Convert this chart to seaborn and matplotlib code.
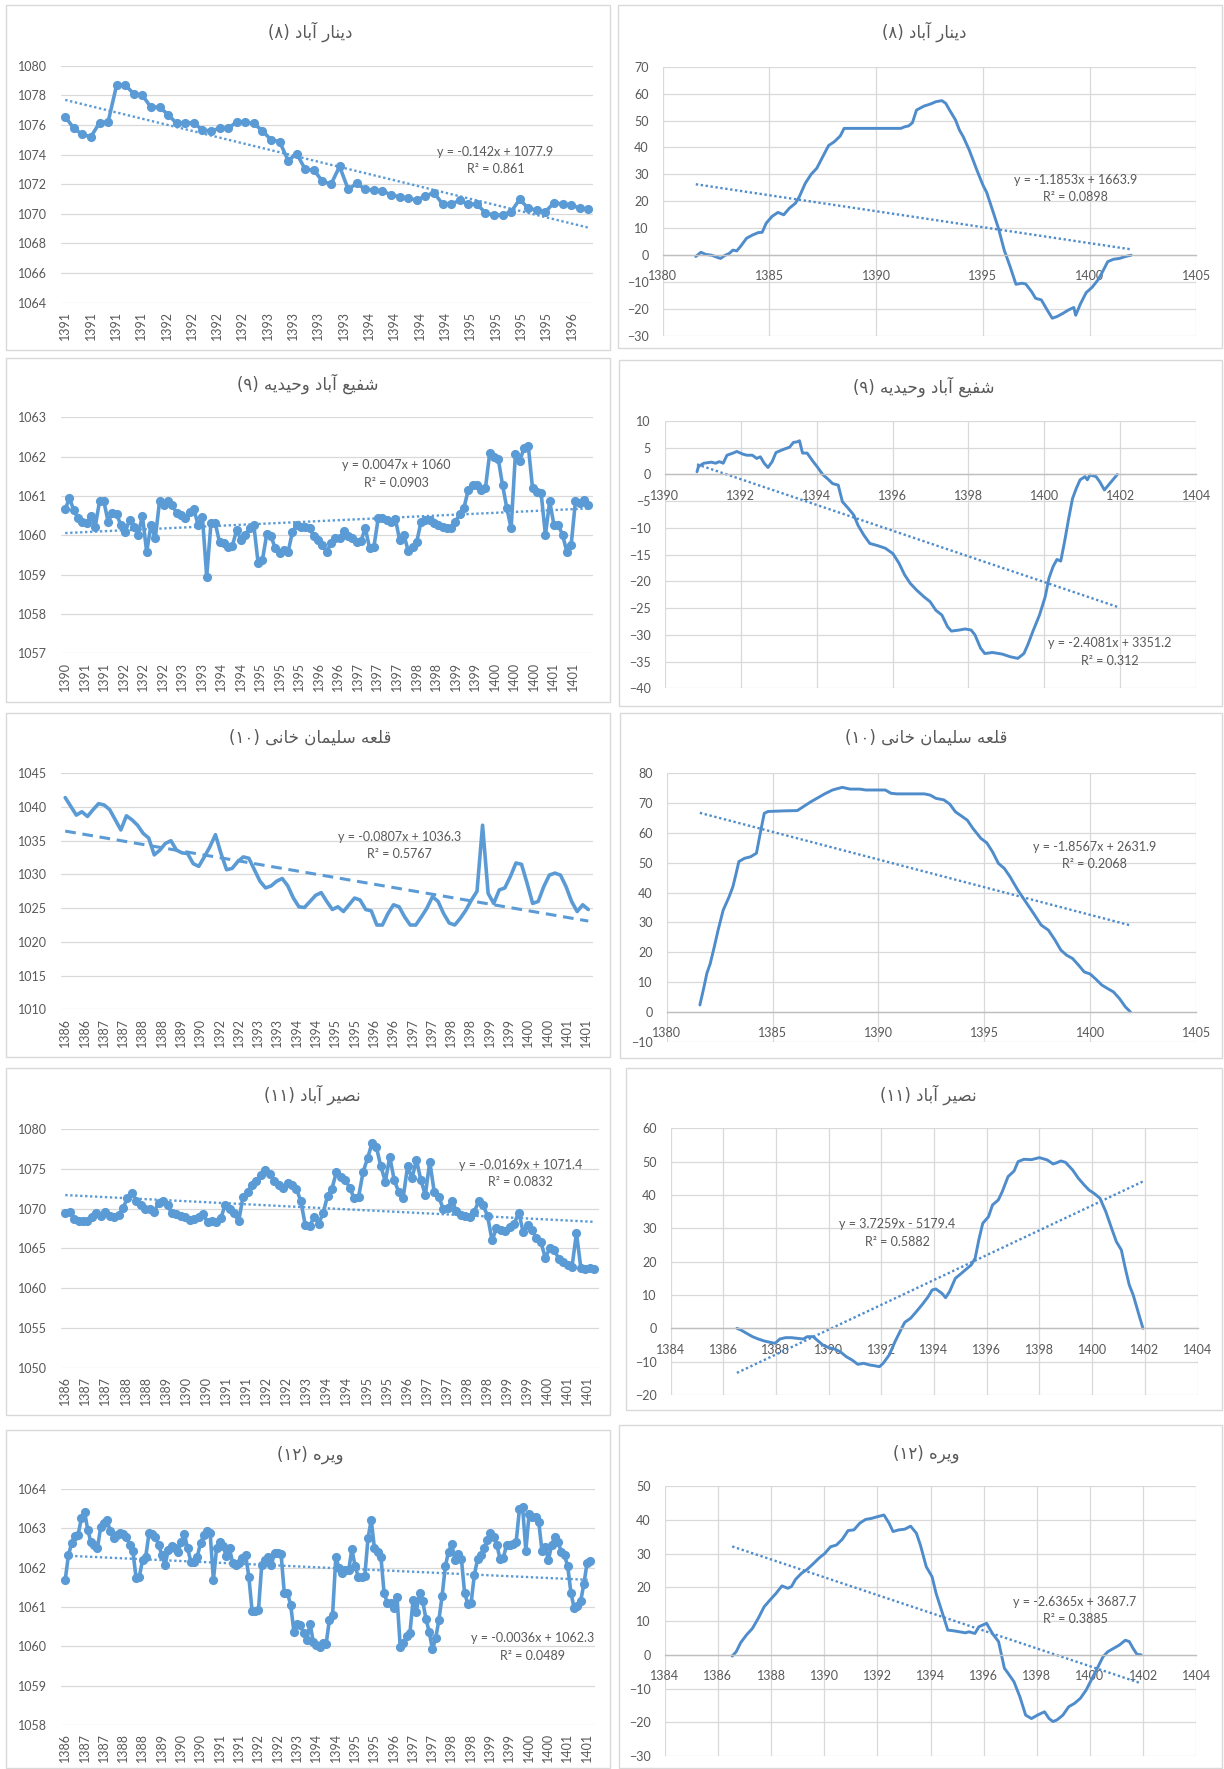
import numpy as np
import matplotlib
matplotlib.use("Agg")
import matplotlib.pyplot as plt
import seaborn as sns

# --- titles (Persian) and trend labels
TITLES = ["دینار آباد (۸)", "شفیع آباد وحیدیه (۹)", "قلعه سلیمان خانی (۱۰)",
          "نصیر آباد (۱۱)", "ویره (۱۲)"]

LEFT_EQ = [("y = -0.142x + 1077.9", "R² = 0.861"),
           ("y = 0.0047x + 1060", "R² = 0.0903"),
           ("y = -0.0807x + 1036.3", "R² = 0.5767"),
           ("y = -0.0169x + 1071.4", "R² = 0.0832"),
           ("y = -0.0036x + 1062.3", "R² = 0.0489")]
RIGHT_EQ = [("y = -1.1853x + 1663.9", "R² = 0.0898"),
            ("y = -2.4081x + 3351.2", "R² = 0.312"),
            ("y = -1.8567x + 2631.9", "R² = 0.2068"),
            ("y = 3.7259x - 5179.4", "R² = 0.5882"),
            ("y = -2.6365x + 3687.7", "R² = 0.3885")]
RIGHT_COEF = [(-1.1853, 1663.9), (-2.4081, 3351.2), (-1.8567, 2631.9),
              (3.7259, -5179.4), (-2.6365, 3687.7)]

# --- left column: level series on category axes
L1_LABELS = ["1391"] * 4 + ["1392"] * 4 + ["1393"] * 4 + ["1394"] * 4 + ["1395"] * 4 + ["1396"]
L1_VALS = [1076.56, 1075.77, 1075.36, 1075.2, 1076.15, 1076.2, 1078.7, 1078.7, 1078.1, 1078.0,
           1077.2, 1077.2, 1076.7, 1076.1, 1076.15, 1076.15, 1075.65, 1075.6, 1075.77, 1075.77,
           1076.2, 1076.2, 1076.1, 1075.6, 1075.0, 1074.87, 1073.6, 1074.05, 1073.0, 1072.95,
           1072.2, 1072.0, 1073.2, 1071.65, 1072.05, 1071.65, 1071.6, 1071.55, 1071.27, 1071.15,
           1071.05, 1070.93, 1071.2, 1071.43, 1070.66, 1070.66, 1070.9, 1070.66, 1070.66, 1070.07,
           1069.9, 1069.92, 1070.14, 1070.98, 1070.37, 1070.25, 1070.14, 1070.75, 1070.66, 1070.6,
           1070.37, 1070.3]

L2_LABELS = ["1390", "1391", "1391", "1392", "1392", "1392", "1393", "1393", "1394", "1394",
             "1395", "1395", "1395", "1396", "1396", "1397", "1397", "1397", "1398", "1398",
             "1399", "1399", "1400", "1400", "1400", "1401", "1401"]
L2_VALS = [1060.67, 1060.94, 1060.64, 1060.43, 1060.35, 1060.31, 1060.50, 1060.22, 1060.86, 1060.87,
           1060.35, 1060.56, 1060.53, 1060.26, 1060.09, 1060.39, 1060.22, 1060.01, 1060.50, 1059.58,
           1060.26, 1059.92, 1060.86, 1060.77, 1060.86, 1060.77, 1060.56, 1060.52, 1060.43, 1060.60,
           1060.67, 1060.26, 1060.47, 1058.95, 1060.31, 1060.31, 1059.82, 1059.80, 1059.71, 1059.74,
           1060.14, 1059.88, 1060.01, 1060.18, 1060.25, 1059.29, 1059.37, 1060.03, 1059.97, 1059.67,
           1059.54, 1059.63, 1059.58, 1060.09, 1060.26, 1060.22, 1060.22, 1060.18, 1059.97, 1059.88,
           1059.75, 1059.58, 1059.80, 1059.94, 1059.92, 1060.11, 1059.97, 1059.94, 1059.84, 1059.86,
           1060.18, 1059.67, 1059.71, 1060.43, 1060.45, 1060.39, 1060.35, 1060.42, 1059.88, 1060.01,
           1059.60, 1059.71, 1059.84, 1060.35, 1060.39, 1060.39, 1060.31, 1060.26, 1060.22, 1060.19,
           1060.18, 1060.35, 1060.53, 1060.70, 1061.15, 1061.28, 1061.28, 1061.15, 1061.19, 1062.08,
           1062.00, 1061.94, 1061.28, 1060.69, 1060.18, 1062.06, 1061.89, 1062.21, 1062.28, 1061.19,
           1061.11, 1061.07, 1060.01, 1060.86, 1060.26, 1060.26, 1060.01, 1059.58, 1059.75, 1060.86,
           1060.81, 1060.90, 1060.77]

L3_LABELS = ["1386", "1386", "1387", "1387", "1388", "1388", "1389", "1390", "1392", "1392",
             "1393", "1393", "1394", "1394", "1395", "1395", "1396", "1396", "1397", "1397",
             "1398", "1398", "1399", "1399", "1400", "1400", "1401", "1401"]
L3_VALS = [1041.4, 1040.1, 1038.8, 1039.3, 1038.6, 1039.6, 1040.5, 1040.3, 1039.6, 1038.1,
           1036.6, 1038.7, 1038.1, 1037.3, 1036.1, 1035.4, 1032.9, 1033.6, 1034.6, 1035.0,
           1033.6, 1033.2, 1033.1, 1031.6, 1031.2, 1032.6, 1034.1, 1035.9, 1033.1, 1030.7,
           1030.9, 1031.9, 1032.6, 1032.4, 1030.7, 1029.0, 1028.0, 1028.3, 1029.0, 1029.4,
           1028.3, 1026.5, 1025.2, 1025.1, 1026.0, 1026.9, 1027.3, 1026.0, 1024.8, 1025.2,
           1024.5, 1025.5, 1026.5, 1026.2, 1024.8, 1024.6, 1022.5, 1022.5, 1024.2, 1025.5,
           1025.2, 1023.7, 1022.5, 1022.5, 1023.7, 1025.0, 1026.7, 1026.0, 1024.2, 1022.8,
           1022.5, 1023.5, 1024.7, 1026.2, 1027.5, 1037.3, 1027.2, 1025.7, 1027.7, 1028.0,
           1029.7, 1031.7, 1031.5, 1028.7, 1025.7, 1026.0, 1028.2, 1029.9, 1030.2, 1029.9,
           1028.2, 1026.0, 1024.5, 1025.5, 1024.8]

L4_LABELS = ["1386", "1387", "1387", "1388", "1388", "1389", "1390", "1390", "1391", "1391",
             "1392", "1392", "1393", "1394", "1394", "1395", "1395", "1396", "1397", "1397",
             "1398", "1398", "1399", "1399", "1400", "1401", "1401"]
L4_VALS = [1069.4, 1069.6, 1068.7, 1068.4, 1068.4, 1068.4, 1069.0, 1069.4, 1069.1, 1069.6,
           1069.1, 1069.0, 1069.2, 1070.1, 1071.3, 1072.0, 1071.0, 1070.5, 1069.9, 1069.9,
           1069.6, 1070.7, 1070.9, 1070.4, 1069.4, 1069.3, 1069.1, 1068.9, 1068.6, 1068.7,
           1069.0, 1069.3, 1068.3, 1068.4, 1068.3, 1068.8, 1070.5, 1070.0, 1069.4, 1068.4,
           1071.5, 1072.1, 1073.0, 1073.5, 1074.2, 1074.8, 1074.4, 1073.5, 1072.9, 1072.6,
           1073.2, 1072.9, 1072.5, 1070.9, 1067.9, 1067.8, 1069.0, 1068.1, 1069.4, 1071.6,
           1072.5, 1074.6, 1074.0, 1073.6, 1072.6, 1071.3, 1071.5, 1074.6, 1076.3, 1078.2,
           1077.7, 1075.3, 1073.4, 1076.5, 1073.6, 1072.1, 1071.3, 1075.3, 1073.8, 1076.1,
           1073.6, 1071.7, 1075.9, 1072.1, 1071.5, 1070.0, 1070.1, 1070.9, 1069.7, 1069.2,
           1069.1, 1069.0, 1069.6, 1070.9, 1070.4, 1069.1, 1066.0, 1067.5, 1067.3, 1067.2,
           1067.7, 1068.1, 1069.5, 1067.1, 1067.9, 1067.3, 1066.3, 1065.8, 1063.8, 1065.0,
           1064.8, 1063.7, 1063.3, 1062.9, 1062.7, 1066.9, 1062.5, 1062.4, 1062.5, 1062.4]

L5_LABELS = ["1386", "1387", "1387", "1388", "1388", "1389", "1390", "1390", "1391", "1391",
             "1392", "1392", "1393", "1394", "1394", "1395", "1395", "1396", "1397", "1397",
             "1398", "1398", "1399", "1399", "1400", "1400", "1401", "1401"]
L5_VALS = [1061.69, 1062.32, 1062.62, 1062.81, 1062.84, 1063.25, 1063.42, 1062.96, 1062.64, 1062.58,
           1062.49, 1063.03, 1063.13, 1063.21, 1062.92, 1062.75, 1062.84, 1062.89, 1062.86, 1062.79,
           1062.58, 1062.43, 1061.73, 1061.77, 1062.19, 1062.28, 1062.87, 1062.86, 1062.79, 1062.58,
           1062.32, 1062.07, 1062.45, 1062.55, 1062.49, 1062.41, 1062.64, 1062.86, 1062.49, 1062.15,
           1062.15, 1062.28, 1062.62, 1062.83, 1062.92, 1062.87, 1061.69, 1062.49, 1062.64, 1062.55,
           1062.30, 1062.49, 1062.11, 1062.07, 1062.13, 1062.24, 1062.32, 1061.77, 1060.91, 1060.89,
           1060.93, 1062.07, 1062.19, 1062.28, 1062.07, 1062.38, 1062.38, 1062.36, 1061.36, 1061.35,
           1061.05, 1060.37, 1060.58, 1060.54, 1060.33, 1060.16, 1060.58, 1060.12, 1060.03, 1059.99,
           1060.08, 1060.06, 1060.67, 1060.80, 1062.26, 1062.00, 1061.86, 1061.94, 1061.94, 1062.47,
           1062.03, 1061.77, 1061.77, 1061.79, 1062.75, 1063.21, 1062.49, 1062.41, 1062.28, 1061.35,
           1061.11, 1061.11, 1060.97, 1061.26, 1059.99, 1060.08, 1060.26, 1060.33, 1061.19, 1060.88,
           1061.35, 1061.14, 1060.69, 1060.37, 1059.92, 1060.20, 1060.67, 1061.28, 1062.03, 1062.41,
           1062.60, 1062.19, 1062.36, 1062.21, 1061.35, 1061.08, 1061.10, 1061.81, 1062.21, 1062.32,
           1062.49, 1062.70, 1062.87, 1062.77, 1062.58, 1062.21, 1062.24, 1062.58, 1062.58, 1062.60,
           1062.66, 1063.48, 1063.53, 1062.43, 1063.36, 1063.28, 1063.30, 1063.17, 1062.43, 1062.53,
           1062.19, 1062.58, 1062.79, 1062.64, 1062.41, 1062.32, 1062.03, 1061.36, 1060.97, 1061.02,
           1061.14, 1061.58, 1062.11, 1062.18]

# --- right column: cumulative series against year
R1_X = [1381.55, 1381.79, 1382.01, 1382.29, 1382.56, 1382.71, 1382.93, 1383.11, 1383.29, 1383.47,
        1383.66, 1383.93, 1384.21, 1384.48, 1384.66, 1384.85, 1385.12, 1385.40, 1385.67, 1385.94,
        1386.22, 1386.40, 1386.68, 1386.95, 1387.22, 1387.50, 1387.77, 1388.05, 1388.32, 1388.50,
        1388.78, 1389.51, 1390.42, 1391.16, 1391.34, 1391.52, 1391.70, 1391.89, 1392.25, 1392.53,
        1392.80, 1393.08, 1393.26, 1393.44, 1393.72, 1393.90, 1394.08, 1394.36, 1394.72, 1395.00,
        1395.18, 1395.45, 1395.73, 1396.00, 1396.28, 1396.55, 1396.83, 1397.01, 1397.28, 1397.47,
        1397.74, 1398.01, 1398.25, 1398.47, 1398.75, 1399.02, 1399.26, 1399.35, 1399.57, 1399.84,
        1400.12, 1400.39, 1400.57, 1400.85, 1401.12, 1401.40, 1401.67, 1401.95]
R1_Y = [-0.5, 1.1, 0.3, 0.0, -0.8, -1.2, 0.0, 0.6, 1.9, 1.6, 3.4, 6.3, 7.5, 8.4, 8.5, 11.9, 14.4,
        15.9, 15.0, 17.5, 19.3, 21.7, 26.7, 30.0, 32.3, 36.6, 40.7, 42.2, 44.3, 47.1, 47.1, 47.1,
        47.1, 47.1, 47.7, 48.0, 49.2, 53.9, 55.4, 56.1, 57.0, 57.4, 56.4, 53.9, 50.2, 46.5, 44.0,
        39.1, 31.6, 26.1, 23.3, 16.8, 10.0, 1.9, -4.3, -10.8, -10.4, -10.7, -13.5, -16.0, -16.6,
        -20.3, -23.4, -22.8, -21.6, -20.3, -19.4, -22.3, -18.1, -13.9, -11.9, -9.2, -6.7, -2.4,
        -1.5, -1.2, -0.5, 0.0]

R2_X = [1390.85, 1390.89, 1391.03, 1391.23, 1391.34, 1391.44, 1391.54, 1391.64, 1391.80, 1391.90,
        1392.06, 1392.16, 1392.31, 1392.42, 1392.52, 1392.62, 1392.72, 1392.83, 1392.93, 1393.13,
        1393.29, 1393.39, 1393.49, 1393.55, 1393.63, 1393.75, 1393.91, 1394.01, 1394.16, 1394.32,
        1394.42, 1394.57, 1394.68, 1394.83, 1394.98, 1395.09, 1395.24, 1395.40, 1395.60, 1395.81,
        1396.01, 1396.17, 1396.32, 1396.47, 1396.63, 1396.83, 1396.99, 1397.14, 1397.30, 1397.45,
        1397.55, 1397.76, 1397.91, 1398.07, 1398.17, 1398.32, 1398.43, 1398.63, 1398.89, 1399.10,
        1399.30, 1399.46, 1399.56, 1399.71, 1399.87, 1400.02, 1400.12, 1400.23, 1400.33, 1400.43,
        1400.53, 1400.64, 1400.74, 1400.84, 1400.94, 1401.07, 1401.13, 1401.20, 1401.36, 1401.46,
        1401.58, 1401.72, 1401.92]
R2_Y = [0.5, 1.5, 2.1, 2.3, 2.1, 2.4, 2.1, 3.6, 4.0, 4.3, 3.8, 3.6, 3.6, 3.0, 3.3, 2.1, 1.3, 2.4,
        4.1, 4.7, 5.1, 6.0, 6.1, 6.3, 4.0, 4.0, 2.4, 1.5, 0.0, -1.0, -1.7, -2.0, -5.1, -6.3, -7.6,
        -9.5, -11.3, -12.9, -13.3, -13.8, -14.8, -16.6, -18.8, -20.4, -21.6, -22.9, -23.8, -25.4,
        -26.3, -28.5, -29.3, -29.1, -28.9, -29.1, -30.0, -32.5, -33.5, -33.3, -33.6, -34.1, -34.4,
        -33.5, -31.9, -29.1, -26.3, -22.9, -19.4, -17.2, -15.9, -16.2, -12.6, -8.2, -4.5, -2.6,
        -1.0, -0.4, -1.0, -0.1, -0.4, -1.4, -2.9, -1.7, 0.0]

R3_X = [1381.57, 1381.75, 1381.90, 1382.06, 1382.25, 1382.43, 1382.67, 1382.95, 1383.13, 1383.28,
        1383.41, 1383.68, 1383.96, 1384.24, 1384.42, 1384.61, 1384.79, 1385.53, 1386.17, 1386.45,
        1386.82, 1387.09, 1387.46, 1387.83, 1388.29, 1388.66, 1389.12, 1389.40, 1389.76, 1390.32,
        1390.59, 1390.87, 1391.42, 1392.16, 1392.44, 1392.71, 1393.08, 1393.36, 1393.63, 1393.91,
        1394.19, 1394.46, 1394.83, 1395.11, 1395.38, 1395.66, 1395.94, 1396.21, 1396.58, 1396.95,
        1397.32, 1397.68, 1398.02, 1398.33, 1398.61, 1398.88, 1399.16, 1399.44, 1399.71, 1399.99,
        1400.27, 1400.54, 1400.82, 1401.09, 1401.37, 1401.65, 1401.89]
R3_Y = [2.3, 7.9, 12.9, 16.2, 21.8, 27.4, 34.1, 38.6, 42.0, 46.4, 50.4, 51.5, 52.0, 53.2, 59.9,
        66.6, 67.2, 67.4, 67.5, 68.8, 70.5, 71.6, 73.1, 74.4, 75.3, 74.7, 74.7, 74.4, 74.4, 74.4,
        73.3, 73.1, 73.1, 73.1, 72.7, 71.6, 71.1, 69.7, 67.1, 65.7, 64.3, 61.5, 58.2, 56.7, 53.7,
        49.8, 48.1, 45.3, 40.8, 36.9, 33.0, 29.1, 27.4, 24.1, 20.7, 19.0, 17.9, 15.7, 13.4, 12.7,
        10.9, 9.0, 7.8, 6.7, 4.5, 1.7, 0.0]

R4_X = [1386.52, 1386.67, 1386.89, 1387.11, 1387.33, 1387.56, 1387.78, 1387.97, 1388.15, 1388.37,
        1388.59, 1388.81, 1389.04, 1389.19, 1389.41, 1389.56, 1389.78, 1390.00, 1390.22, 1390.44,
        1390.67, 1390.89, 1391.11, 1391.33, 1391.56, 1391.73, 1391.93, 1392.07, 1392.30, 1392.52,
        1392.74, 1392.89, 1393.11, 1393.33, 1393.56, 1393.78, 1393.93, 1394.07, 1394.30, 1394.44,
        1394.59, 1394.81, 1395.04, 1395.26, 1395.41, 1395.56, 1395.70, 1395.85, 1396.07, 1396.22,
        1396.44, 1396.59, 1396.81, 1397.04, 1397.19, 1397.41, 1397.70, 1398.00, 1398.30, 1398.52,
        1398.67, 1398.81, 1398.99, 1399.26, 1399.48, 1399.70, 1399.88, 1400.07, 1400.30, 1400.52,
        1400.74, 1400.92, 1401.11, 1401.26, 1401.41, 1401.56, 1401.78, 1401.93]
R4_Y = [0.0, -0.5, -1.5, -2.5, -3.2, -3.8, -4.2, -4.5, -3.2, -2.8, -2.8, -3.0, -3.2, -2.5, -2.5,
        -3.5, -5.0, -5.8, -6.2, -7.0, -8.5, -9.5, -10.8, -10.5, -11.0, -11.2, -11.5, -10.5, -8.0,
        -4.0, -0.5, 1.8, 3.0, 5.0, 7.2, 9.5, 11.5, 11.8, 10.5, 9.2, 11.0, 15.0, 16.5, 18.0, 19.0,
        21.0, 26.5, 31.5, 33.5, 37.0, 38.5, 41.0, 45.5, 47.2, 50.0, 50.7, 50.6, 51.2, 50.5, 49.3,
        49.7, 50.2, 49.8, 47.5, 45.0, 43.0, 41.5, 40.5, 39.0, 35.0, 30.0, 26.0, 23.5, 18.0, 13.0,
        10.0, 4.0, 0.0]

R5_X = [1386.54, 1386.69, 1386.86, 1387.08, 1387.30, 1387.52, 1387.74, 1387.96, 1388.19, 1388.41,
        1388.63, 1388.77, 1388.92, 1389.14, 1389.36, 1389.58, 1389.80, 1390.02, 1390.24, 1390.46,
        1390.68, 1390.90, 1391.12, 1391.34, 1391.56, 1391.78, 1392.00, 1392.25, 1392.44, 1392.59,
        1392.81, 1393.03, 1393.25, 1393.47, 1393.62, 1393.84, 1394.06, 1394.21, 1394.43, 1394.65,
        1394.87, 1395.09, 1395.31, 1395.45, 1395.67, 1395.82, 1396.11, 1396.33, 1396.56, 1396.78,
        1396.92, 1397.14, 1397.36, 1397.58, 1397.80, 1398.02, 1398.29, 1398.46, 1398.61, 1398.76,
        1398.98, 1399.20, 1399.42, 1399.64, 1399.86, 1400.08, 1400.30, 1400.49, 1400.67, 1400.89,
        1401.11, 1401.33, 1401.48, 1401.62, 1401.77, 1401.92]
R5_Y = [-0.4, 0.9, 3.6, 5.9, 7.8, 10.8, 14.2, 16.2, 18.2, 20.4, 19.7, 20.2, 22.3, 24.1, 25.3,
        26.9, 28.6, 30.0, 32.0, 32.5, 34.2, 36.8, 37.0, 39.0, 40.1, 40.4, 40.9, 41.4, 39.0, 36.5,
        37.0, 37.2, 38.1, 36.0, 32.5, 26.1, 23.1, 18.2, 12.8, 7.3, 7.1, 6.8, 6.5, 6.8, 6.3, 8.3,
        9.3, 6.3, 3.9, -4.0, -5.5, -8.0, -12.4, -17.9, -18.9, -17.9, -16.9, -18.9, -19.8, -19.3,
        -17.9, -15.4, -14.4, -12.9, -10.4, -7.0, -3.6, -0.6, 0.9, 1.9, 2.9, 4.3, 3.9, 1.9, 0.1, 0.0]

BLUE = "#5B9BD5"
BLUE_R = "#4F8CCB"
TXT = "#595959"
GRID = "#D9D9D9"
W, H = 1224, 1769

# arabic contextual forms: isolated, final, initial, medial
FORMS = {
    "ا": ("\uFE8D", "\uFE8E", None, None), "آ": ("\uFE81", "\uFE82", None, None),
    "د": ("\uFEA9", "\uFEAA", None, None), "ر": ("\uFEAD", "\uFEAE", None, None),
    "و": ("\uFEED", "\uFEEE", None, None),
    "ب": ("\uFE8F", "\uFE90", "\uFE91", "\uFE92"), "ح": ("\uFEA1", "\uFEA2", "\uFEA3", "\uFEA4"),
    "خ": ("\uFEA5", "\uFEA6", "\uFEA7", "\uFEA8"), "س": ("\uFEB1", "\uFEB2", "\uFEB3", "\uFEB4"),
    "ش": ("\uFEB5", "\uFEB6", "\uFEB7", "\uFEB8"), "ص": ("\uFEB9", "\uFEBA", "\uFEBB", "\uFEBC"),
    "ع": ("\uFEC9", "\uFECA", "\uFECB", "\uFECC"), "ف": ("\uFED1", "\uFED2", "\uFED3", "\uFED4"),
    "ق": ("\uFED5", "\uFED6", "\uFED7", "\uFED8"), "ل": ("\uFEDD", "\uFEDE", "\uFEDF", "\uFEE0"),
    "م": ("\uFEE1", "\uFEE2", "\uFEE3", "\uFEE4"), "ن": ("\uFEE5", "\uFEE6", "\uFEE7", "\uFEE8"),
    "ه": ("\uFEE9", "\uFEEA", "\uFEEB", "\uFEEC"),
    "\u06CC": ("\uFEEF", "\uFEF0", "\uFEF3", "\uFEF4"), "\u064A": ("\uFEEF", "\uFEF0", "\uFEF3", "\uFEF4"),
}


def shape(word):
    out = []
    for i, ch in enumerate(word):
        if ch not in FORMS:
            out.append(ch)
            continue
        prev = word[i - 1] if i > 0 else ""
        nxt = word[i + 1] if i + 1 < len(word) else ""
        jp = prev in FORMS and FORMS[prev][2] is not None
        jn = nxt in FORMS and FORMS[ch][2] is not None
        iso, fin, ini, med = FORMS[ch]
        out.append(med if (jp and jn) else fin if jp else ini if jn else iso)
    return "".join(out)


def visual(title):
    # matplotlib has no bidi support, so lay the title out right-to-left by hand
    name, num = title.rsplit(" (", 1)
    return "(" + num.rstrip(")") + ") " + shape(name)[::-1]


def px_axes(fig, box):
    x0, y0, x1, y1 = box
    return fig.add_axes([x0 / W, 1 - y1 / H, (x1 - x0) / W, (y1 - y0) / H])


def frame(fig, box):
    x0, y0, x1, y1 = box
    fig.add_artist(plt.Rectangle((x0 / W, 1 - y1 / H), (x1 - x0) / W, (y1 - y0) / H,
                                 transform=fig.transFigure, fill=False, edgecolor=GRID, lw=1.0))


def style_common(ax):
    for s in ax.spines.values():
        s.set_visible(False)
    ax.tick_params(length=0, labelsize=9, labelcolor=TXT)
    ax.set_xlabel("")
    ax.set_ylabel("")


def left_chart(ax, vals, labels, frac, yticks, eq, eq_pos, markers=True, trend_ls=(0, (1, 1.1)),
               minor=False):
    x = np.arange(len(vals))
    kw = dict(color=BLUE, linewidth=2.6)
    if markers:
        kw.update(marker="o", markersize=6.6, markeredgecolor=BLUE, markeredgewidth=0)
    sns.lineplot(x=x, y=vals, ax=ax, legend=False, **kw)
    k, b = np.polyfit(x, vals, 1)
    ends = np.array([0, len(vals) - 1])
    ax.plot(ends, k * ends + b, linestyle=trend_ls, color=BLUE,
            linewidth=2.2 if minor else 1.7)
    pad = 0.009 * (len(vals) - 1)
    ax.set_xlim(-pad, len(vals) - 1 + pad)
    ax.set_ylim(yticks[0], yticks[-1])
    ax.set_yticks(yticks)
    ax.set_xticks(np.linspace(0, (len(vals) - 1) * frac, len(labels)))
    ax.set_xticklabels(labels, rotation=90)
    style_common(ax)
    ax.yaxis.grid(True, color=GRID, lw=0.9)
    ax.xaxis.grid(False)
    ax.tick_params(axis="y", pad=10)
    ax.tick_params(axis="x", pad=6)
    if minor:
        ax.set_xticks(x, minor=True)
        ax.tick_params(axis="x", which="minor", length=3, color=GRID, width=0.8)
    ax.text(eq_pos[0], eq_pos[1], eq[0], transform=ax.transAxes, ha="center", va="center",
            fontsize=9, color=TXT)
    ax.text(eq_pos[0], eq_pos[2], eq[1], transform=ax.transAxes, ha="center", va="center",
            fontsize=9, color=TXT)


def right_chart(ax, xs, ys, coef, xticks, yticks, eq, eq_pos):
    sns.lineplot(x=xs, y=ys, ax=ax, color=BLUE_R, linewidth=2.1, legend=False)
    ends = np.array([xs[0], xs[-1]])
    ax.plot(ends, coef[0] * ends + coef[1], linestyle=(0, (1, 1.1)), color=BLUE_R, linewidth=1.7)
    ax.set_xlim(xticks[0], xticks[-1])
    ax.set_ylim(yticks[0], yticks[-1])
    ax.set_xticks(xticks)
    ax.set_yticks(yticks)
    style_common(ax)
    ax.grid(True, color=GRID, lw=0.9)
    ax.spines["bottom"].set_visible(True)
    ax.spines["bottom"].set_position(("data", 0))
    ax.spines["bottom"].set_color("#BFBFBF")
    ax.spines["bottom"].set_linewidth(1.0)
    ax.tick_params(axis="y", pad=10)
    ax.tick_params(axis="x", pad=11)
    ax.text(eq_pos[0], eq_pos[1], eq[0], transform=ax.transAxes, ha="center", va="center",
            fontsize=9, color=TXT)
    ax.text(eq_pos[0], eq_pos[2], eq[1], transform=ax.transAxes, ha="center", va="center",
            fontsize=9, color=TXT)


sns.set_theme(style="white")
plt.rcParams["font.family"] = ["Lato", "DejaVu Sans"]

fig = plt.figure(figsize=(W / 100, H / 100), dpi=100)
fig.patch.set_facecolor("white")

LEFT_FRAMES = [(6, 5, 610, 350), (6, 358, 610, 702), (6, 713, 610, 1057),
               (6, 1068, 610, 1415), (6, 1430, 610, 1768)]
RIGHT_FRAMES = [(618, 5, 1222, 348), (619, 360, 1222, 706), (620, 713, 1222, 1058),
                (626, 1068, 1222, 1410), (619, 1425, 1222, 1768)]
for bx in LEFT_FRAMES + RIGHT_FRAMES:
    frame(fig, bx)

LEFT_BOXES = [(60.5, 65.7, 593, 302.7), (60.5, 417.3, 593, 653.3), (60.5, 773.3, 593, 1009.3),
              (60.5, 1129, 599, 1367.7), (60.5, 1489, 595, 1725)]
RIGHT_BOXES = [(662.7, 66.7, 1196.3, 336), (664.7, 421, 1196.3, 688.3), (666.6, 773.3, 1196.3, 1041.7),
               (670.5, 1128.3, 1197.5, 1395), (664.7, 1486, 1196.3, 1756)]

left_specs = [
    (L1_VALS, L1_LABELS, 0.968, np.arange(1064, 1081, 2), (0.817, 0.637, 0.563), True),
    (L2_VALS, L2_LABELS, 0.970, np.arange(1057, 1064, 1), (0.630, 0.798, 0.723), True),
    (L3_VALS, L3_LABELS, 0.996, np.arange(1010, 1046, 5), (0.637, 0.732, 0.657), False),
    (L4_VALS, L4_LABELS, 0.987, np.arange(1050, 1081, 5), (0.855, 0.849, 0.777), True),
    (L5_VALS, L5_LABELS, 0.993, np.arange(1058, 1065, 1), (0.883, 0.367, 0.294), True),
]
for i, (vals, labels, frac, yt, pos, mk) in enumerate(left_specs):
    ax = px_axes(fig, LEFT_BOXES[i])
    if mk:
        left_chart(ax, vals, labels, frac, yt, LEFT_EQ[i], pos)
    else:
        left_chart(ax, vals, labels, frac, yt, LEFT_EQ[i], pos, markers=False,
                   trend_ls=(0, (3.5, 2.2)), minor=True)

right_specs = [
    (R1_X, R1_Y, np.arange(1380, 1406, 5), np.arange(-30, 71, 10), (0.773, 0.579, 0.515)),
    (R2_X, R2_Y, np.arange(1390, 1405, 2), np.arange(-40, 11, 5), (0.838, 0.168, 0.102)),
    (R3_X, R3_Y, np.arange(1380, 1406, 5), np.arange(-10, 81, 10), (0.808, 0.727, 0.661)),
    (R4_X, R4_Y, np.arange(1384, 1405, 2), np.arange(-20, 61, 10), (0.430, 0.640, 0.575)),
    (R5_X, R5_Y, np.arange(1384, 1405, 2), np.arange(-30, 51, 10), (0.772, 0.572, 0.509)),
]
for i, (xs, ys, xt, yt, pos) in enumerate(right_specs):
    ax = px_axes(fig, RIGHT_BOXES[i])
    right_chart(ax, np.array(xs), np.array(ys), RIGHT_COEF[i], xt, yt, RIGHT_EQ[i], pos)

LEFT_TITLE_POS = [(310, 32), (308, 384), (310, 738), (312, 1095), (310, 1455)]
RIGHT_TITLE_POS = [(924, 32), (924, 387), (926, 738), (928, 1095), (926, 1454)]
for i, t in enumerate(TITLES):
    for (tx, ty) in (LEFT_TITLE_POS[i], RIGHT_TITLE_POS[i]):
        fig.text(tx / W, 1 - ty / H, visual(t), ha="center", va="center", fontsize=12,
                 color=TXT, family=["DejaVu Sans"])

fig.savefig("out.png", dpi=100, facecolor="white")
